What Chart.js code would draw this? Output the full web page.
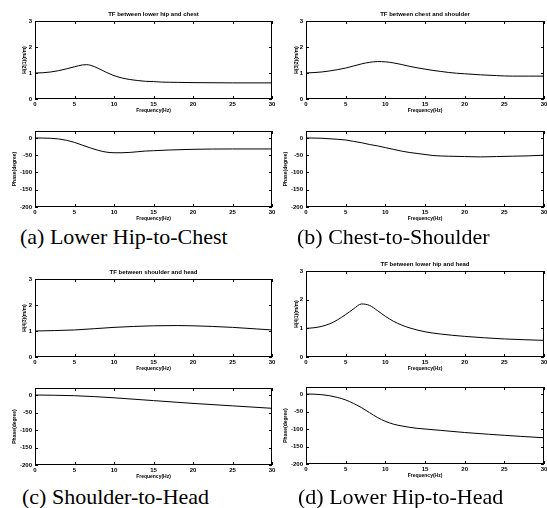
<!DOCTYPE html>
<html>
<head>
<meta charset="utf-8">
<script src="https://cdn.jsdelivr.net/npm/chart.js@4.4.0/dist/chart.umd.min.js"></script>
<style>
  html, body { margin: 0; padding: 0; background: #fff; }
  #wrap { position: relative; width: 547px; height: 508px; overflow: hidden; background: #fff; }
  #wrap canvas { position: absolute; }
  .cap { position: absolute; font-family: "Liberation Serif", "Times New Roman", serif; font-size: 22px; line-height: 22px; color: #000; white-space: nowrap; }
</style>
</head>
<body>
<div id="wrap">
  <canvas id="magA"></canvas>
  <canvas id="phA"></canvas>
  <canvas id="magB"></canvas>
  <canvas id="phB"></canvas>
  <canvas id="magC"></canvas>
  <canvas id="phC"></canvas>
  <canvas id="magD"></canvas>
  <canvas id="phD"></canvas>
  <div class="cap" style="left:20px; top:226px;">(a) Lower Hip-to-Chest</div>
  <div class="cap" style="left:297px; top:226px;">(b) Chest-to-Shoulder</div>
  <div class="cap" style="left:22px; top:486px;">(c) Shoulder-to-Head</div>
  <div class="cap" style="left:298px; top:486px;">(d) Lower Hip-to-Head</div>
</div>
<script>
// tick labels
const freqTicks = [0, 5, 10, 15, 20, 25, 30];
const magTicks = [0, 1, 2, 3];
const phaseTicks = [-200, -150, -100, -50, 0];

// (a) lower hip -> chest
const freqMagA = [0, 1, 2, 3, 4, 5, 6, 6.5, 7, 8, 9, 10, 11, 12, 13, 14, 15, 16, 18, 20, 25, 30];
const magA     = [1.00, 1.01, 1.04, 1.09, 1.16, 1.24, 1.31, 1.32, 1.30, 1.18, 1.03, 0.90, 0.81, 0.75, 0.71, 0.68, 0.67, 0.65, 0.64, 0.63, 0.62, 0.62];
const freqPhA  = [0, 1, 2, 3, 4, 5, 6, 7, 8, 9, 10, 11, 12, 13, 14, 15, 17, 20, 25, 30];
const phaseA   = [0, -0.5, -1, -3, -7, -13, -21, -29, -36, -41, -43, -43, -42, -40, -38, -37, -35, -33, -32, -32];

// (b) chest -> shoulder
const freqMagB = [0, 2, 4, 5, 6, 7, 8, 9, 10, 11, 12, 13, 14, 15, 16, 17, 18, 19, 20, 22, 24, 26, 28, 30];
const magB     = [1.00, 1.04, 1.13, 1.19, 1.27, 1.35, 1.41, 1.44, 1.43, 1.39, 1.33, 1.26, 1.20, 1.15, 1.10, 1.06, 1.02, 0.99, 0.97, 0.93, 0.90, 0.88, 0.88, 0.88];
const freqPhB  = [0, 2, 4, 5, 6, 7, 8, 9, 10, 11, 12, 13, 14, 15, 16, 18, 20, 22, 24, 26, 28, 30];
const phaseB   = [0, -1, -4, -6, -10, -14, -19, -23, -28, -33, -38, -42, -45, -48, -51, -53, -54, -55, -54, -53, -52, -50];

// (c) shoulder -> head
const freqMagC = [0, 5, 10, 15, 18, 20, 25, 28, 30];
const magC     = [1.00, 1.04, 1.14, 1.20, 1.21, 1.20, 1.14, 1.08, 1.04];
const freqPhC  = [0, 5, 10, 15, 20, 25, 30];
const phaseC   = [0, -2, -8, -16, -24, -31, -38];

// (d) lower hip -> head
const freqMagD = [0, 1, 2, 3, 4, 5, 6, 7, 8, 9, 10, 11, 12, 13, 15, 17, 20, 25, 30];
const magD     = [1.00, 1.02, 1.07, 1.16, 1.30, 1.48, 1.68, 1.85, 1.80, 1.62, 1.42, 1.25, 1.12, 1.02, 0.88, 0.80, 0.72, 0.63, 0.58];
const freqPhD  = [0, 1, 2, 3, 4, 5, 6, 7, 8, 9, 10, 11, 12, 13, 14, 15, 17, 20, 23, 25, 27, 30];
const phaseD   = [0, -0.5, -2, -5, -10, -17, -27, -39, -53, -67, -78, -86, -91, -95, -98, -100, -104, -110, -115, -118, -121, -125];

const TICK_FONT = { family: '"Liberation Sans", Arial, sans-serif', size: 6, weight: 'bold' };
const LABEL_FONT = { family: '"Liberation Sans", Arial, sans-serif', size: 5, weight: 'bold', lineHeight: 1 };

// MATLAB style box with inward ticks on all four sides
const boxPlugin = {
  id: 'box',
  afterDraw(chart) {
    const { ctx, chartArea: a, scales } = chart;
    ctx.save();
    ctx.strokeStyle = '#000';
    ctx.lineWidth = 1;
    ctx.strokeRect(a.left + 0.5, a.top + 0.5, a.right - a.left - 1, a.bottom - a.top - 1);
    ctx.beginPath();
    scales.x.ticks.forEach(t => {
      const px = Math.round(scales.x.getPixelForValue(t.value)) + 0.5;
      ctx.moveTo(px, a.bottom); ctx.lineTo(px, a.bottom - 3);
      ctx.moveTo(px, a.top); ctx.lineTo(px, a.top + 3);
    });
    scales.y.ticks.forEach(t => {
      const py = Math.round(scales.y.getPixelForValue(t.value)) + 0.5;
      ctx.moveTo(a.left, py); ctx.lineTo(a.left + 3, py);
      ctx.moveTo(a.right, py); ctx.lineTo(a.right - 3, py);
    });
    ctx.stroke();
    ctx.restore();
  }
};

function makePanel(id, plot, freq, vals, isMag, title, yLabel, yLabelPad) {
  const topPad = isMag ? 18 : 8;
  const canvas = document.getElementById(id);
  canvas.width = 35 + plot.w + 8;
  canvas.height = topPad + plot.h + 16;
  canvas.style.left = (plot.left - 35) + 'px';
  canvas.style.top = (plot.top - topPad) + 'px';

  const yTicks = isMag ? magTicks : phaseTicks;
  return new Chart(canvas, {
    type: 'scatter',
    data: {
      datasets: [{
        data: freq.map((f, i) => ({ x: f, y: vals[i] })),
        showLine: true,
        borderColor: '#000',
        borderWidth: 1,
        pointRadius: 0,
        cubicInterpolationMode: 'monotone'
      }]
    },
    options: {
      responsive: false,
      animation: false,
      devicePixelRatio: 1,
      layout: { padding: { top: isMag ? 0 : 8, right: 8, left: 0, bottom: 0 } },
      plugins: {
        legend: { display: false },
        tooltip: { enabled: false },
        title: {
          display: isMag,
          text: title,
          fullSize: false,
          color: '#000',
          font: { family: '"Liberation Sans", Arial, sans-serif', size: 6, lineHeight: 1 },
          padding: { top: 8, bottom: 4 }
        }
      },
      scales: {
        x: {
          type: 'linear',
          min: 0, max: 30,
          afterBuildTicks: s => { s.ticks = freqTicks.map(v => ({ value: v })); },
          afterFit: s => { s.height = 16; },
          grid: { display: false, drawTicks: false },
          border: { display: false },
          ticks: { color: '#000', font: TICK_FONT, padding: 2, maxRotation: 0 },
          title: { display: true, text: 'Frequency(Hz)', color: '#000', font: LABEL_FONT, padding: { top: 0, bottom: 2 } }
        },
        y: {
          type: 'linear',
          min: isMag ? 0 : -200,
          max: isMag ? 3 : 20,
          afterBuildTicks: s => { s.ticks = yTicks.map(v => ({ value: v })); },
          afterFit: s => { s.width = 35; },
          grid: { display: false, drawTicks: false },
          border: { display: false },
          ticks: { color: '#000', font: TICK_FONT, padding: 3 },
          title: { display: true, text: yLabel, color: '#000', font: LABEL_FONT, padding: { top: yLabelPad, bottom: 0 } }
        }
      }
    },
    plugins: [boxPlugin]
  });
}

makePanel('magA', { left: 35, top: 21, w: 237, h: 78 }, freqMagA, magA, true, 'TF between lower hip and chest', 'H(2|1)(m/m)', 22);
makePanel('phA', { left: 35, top: 131, w: 237, h: 76 }, freqPhA, phaseA, false, '', 'Phase(degree)', 12);
makePanel('magB', { left: 306, top: 21, w: 238, h: 78 }, freqMagB, magB, true, 'TF between chest and shoulder', 'H(3|2)(m/m)', 23);
makePanel('phB', { left: 306, top: 131, w: 238, h: 76 }, freqPhB, phaseB, false, '', 'Phase(degree)', 12);
makePanel('magC', { left: 35, top: 279, w: 237, h: 78 }, freqMagC, magC, true, 'TF between shoulder and head', 'H(4|3)(m/m)', 22);
makePanel('phC', { left: 35, top: 388, w: 237, h: 77 }, freqPhC, phaseC, false, '', 'Phase(degree)', 12);
makePanel('magD', { left: 306, top: 271, w: 238, h: 86 }, freqMagD, magD, true, 'TF between lower hip and head', 'H(4|1)(m/m)', 23);
makePanel('phD', { left: 306, top: 387, w: 238, h: 77 }, freqPhD, phaseD, false, '', 'Phase(degree)', 12);
</script>
</body>
</html>
